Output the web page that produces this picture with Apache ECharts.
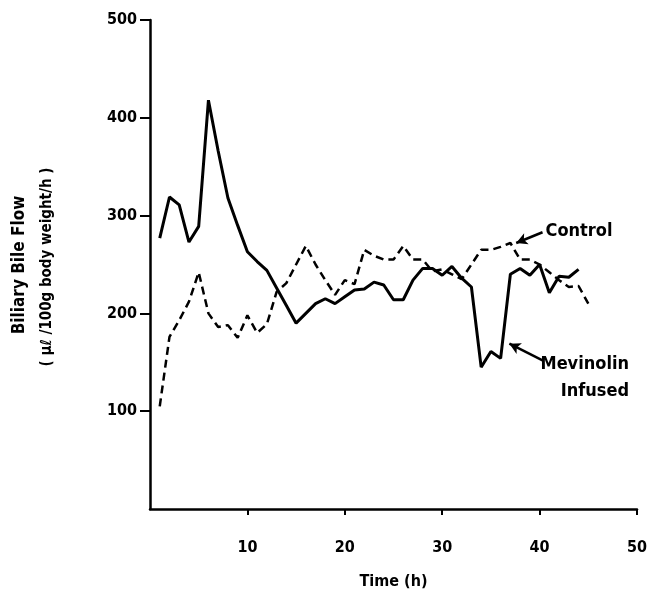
<!DOCTYPE html>
<html>
<head>
<meta charset="utf-8">
<script src="https://cdn.jsdelivr.net/npm/echarts@6/dist/echarts.min.js"></script>
<style>
  html, body { margin: 0; padding: 0; background: #fff; }
  #chart { width: 647px; height: 591px; }
</style>
</head>
<body>
<div id="chart"></div>
<script>
// hours
const hoursMevinolin = [1,2,3,4,5,6,7,8,9,10,11,12,13,14,15,16,17,18,19,20,21,22,23,24,25,26,27,28,29,30,31,32,33,34,35,36,37,38,39,40,41,42,43,44];
const mevinolin = [277,319,311,273,289,418,366,318,290,263,253,244,226,208,190,200,210,215,210,217,224,225,232,229,214,214,234,246,246,239,248,236,227,145,161,154,240,246,239,250,221,238,237,245];

const hoursControl = [1,2,3,4,5,6,7,8,9,10,11,12,13,14,15,16,17,18,19,20,21,22,23,24,25,26,27,28,29,30,31,32,33,34,35,36,37,38,39,40,41,42,43,44,45];
const control = [105,176,193,212,242,200,186,188,175,198,180,189,222,231,250,269,250,234,219,234,230,265,259,255,255,269,255,255,243,245,240,235,250,265,265,268,272,255,255,250,242,234,227,228,210];

const xTicks = [10, 20, 30, 40, 50];
const yTicks = [100, 200, 300, 400, 500];

// annotation arrows [from, to] in data units
const controlArrow = [[40.3, 283], [37.6, 272]];
const mevinolinArrow = [[40.3, 152], [36.9, 169]];

const font = '"DejaVu Sans Condensed", "Liberation Sans Narrow", sans-serif';

const chart = echarts.init(document.getElementById("chart"));

function arrowLine(pts) {
  return {
    silent: true,
    symbol: ["none", "arrow"],
    symbolSize: [9, 11],
    lineStyle: { color: "#000", width: 2.5, type: "solid" },
    label: { show: false },
    data: [[{ coord: pts[0] }, { coord: pts[1] }]]
  };
}

const option = {
  animation: false,
  backgroundColor: "#fff",
  grid: { left: 150, right: 10, top: 20, bottom: 82, outerBoundsMode: "none", containLabel: false },
  xAxis: {
    type: "value",
    min: 0,
    max: 50,
    interval: 10,
    splitLine: { show: false },
    axisLine: { lineStyle: { color: "#000", width: 2.5 } },
    axisTick: { customValues: xTicks, length: 6, lineStyle: { color: "#000", width: 2 } },
    axisLabel: {
      customValues: xTicks,
      margin: 31,
      color: "#000",
      fontFamily: font,
      fontWeight: "bold",
      fontSize: 16
    },
    name: "Time (h)",
    nameLocation: "middle",
    nameGap: 65,
    nameTextStyle: { color: "#000", fontFamily: font, fontWeight: "bold", fontSize: 16 }
  },
  yAxis: {
    type: "value",
    min: 0,
    max: 500,
    interval: 100,
    splitLine: { show: false },
    axisLine: { show: true, lineStyle: { color: "#000", width: 2.5 } },
    axisTick: { show: true, customValues: yTicks, length: 10, lineStyle: { color: "#000", width: 2 } },
    axisLabel: {
      customValues: yTicks,
      margin: 13,
      color: "#000",
      fontFamily: font,
      fontWeight: "bold",
      fontSize: 16
    }
  },
  graphic: [
    {
      type: "text",
      rotation: Math.PI / 2,
      x: 20,
      y: 265,
      style: {
        text: "Biliary Bile Flow",
        fontFamily: font,
        fontWeight: "bold",
        fontSize: 17,
        fill: "#000",
        align: "center",
        verticalAlign: "middle"
      }
    },
    {
      type: "text",
      rotation: Math.PI / 2,
      x: 47,
      y: 267,
      style: {
        text: "( μℓ /100g body weight/h )",
        fontFamily: font,
        fontWeight: "bold",
        fontSize: 15,
        fill: "#000",
        align: "center",
        verticalAlign: "middle"
      }
    }
  ],
  series: [
    {
      name: "Mevinolin Infused",
      type: "line",
      data: hoursMevinolin.map((h, i) => [h, mevinolin[i]]),
      symbol: "none",
      lineStyle: { color: "#000", width: 3 },
      markLine: arrowLine(mevinolinArrow)
    },
    {
      name: "Control",
      type: "line",
      data: hoursControl.map((h, i) => [h, control[i]]),
      symbol: "none",
      lineStyle: { color: "#000", width: 2.5, type: [8, 5] },
      markLine: arrowLine(controlArrow)
    }
  ]
};

chart.setOption(option);

// annotation texts placed next to arrow tails
const c = chart.convertToPixel({ gridIndex: 0 }, controlArrow[0]);
const m = chart.convertToPixel({ gridIndex: 0 }, mevinolinArrow[0]);
const labelStyle = { fontFamily: font, fontWeight: "bold", fontSize: 18, fill: "#000", verticalAlign: "middle" };
chart.setOption({
  graphic: option.graphic.concat([
    { type: "text", x: c[0] + 3, y: c[1] - 1, style: Object.assign({ text: "Control", align: "left" }, labelStyle) },
    { type: "text", x: 629, y: m[1] + 4, style: Object.assign({ text: "Mevinolin", align: "right" }, labelStyle) },
    { type: "text", x: 629, y: m[1] + 31, style: Object.assign({ text: "Infused", align: "right" }, labelStyle) }
  ])
});
</script>
</body>
</html>
